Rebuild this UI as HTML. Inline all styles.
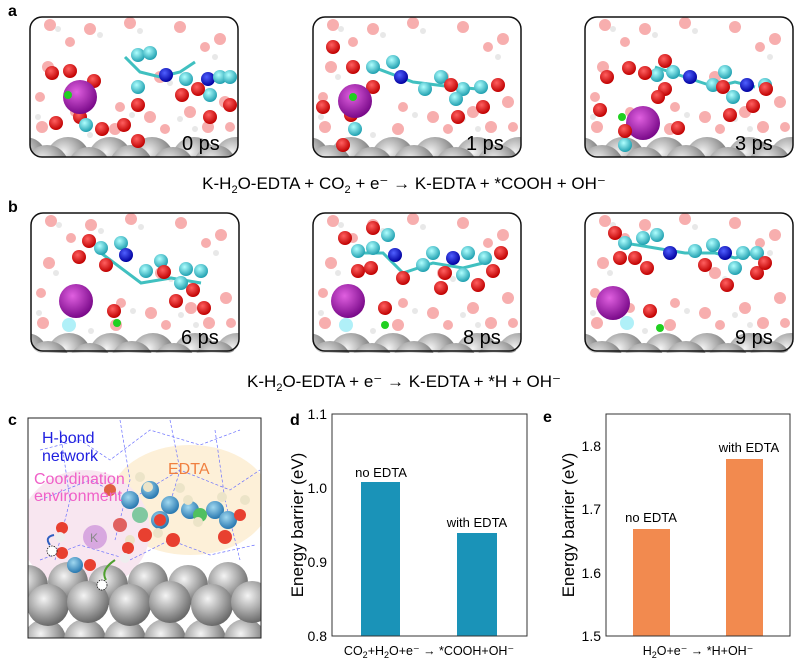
<!DOCTYPE html>
<html><head><meta charset="utf-8"><style>
html,body{margin:0;padding:0;background:#fff;}
svg{display:block;font-family:"Liberation Sans",Arial,sans-serif;}
</style></head><body>
<svg width="799" height="661" viewBox="0 0 799 661" xmlns="http://www.w3.org/2000/svg">
<defs>
<radialGradient id="gm" cx="0.4" cy="0.35" r="0.65"><stop offset="0" stop-color="#f4f4f4"/><stop offset="0.5" stop-color="#b0b0b0"/><stop offset="1" stop-color="#6a6a6a"/></radialGradient>
<radialGradient id="gk" cx="0.4" cy="0.35" r="0.65"><stop offset="0" stop-color="#e060e0"/><stop offset="1" stop-color="#7a0a8a"/></radialGradient>
<radialGradient id="gr" cx="0.4" cy="0.35" r="0.65"><stop offset="0" stop-color="#ff6060"/><stop offset="1" stop-color="#c00000"/></radialGradient>
<radialGradient id="gc" cx="0.4" cy="0.35" r="0.65"><stop offset="0" stop-color="#b0ffff"/><stop offset="1" stop-color="#20a0b0"/></radialGradient>
<radialGradient id="gb" cx="0.4" cy="0.35" r="0.65"><stop offset="0" stop-color="#5060ff"/><stop offset="1" stop-color="#0000a0"/></radialGradient>
<radialGradient id="gcb" cx="0.4" cy="0.35" r="0.65"><stop offset="0" stop-color="#a0d8f0"/><stop offset="1" stop-color="#2878b0"/></radialGradient>
<clipPath id="cf"><rect x="0" y="0" width="208" height="140" rx="12"/></clipPath>
<g id="metal">
<circle cx="-5" cy="142" r="22" fill="url(#gm)"/><circle cx="38" cy="142" r="22" fill="url(#gm)"/><circle cx="80" cy="142" r="22" fill="url(#gm)"/><circle cx="122" cy="142" r="22" fill="url(#gm)"/><circle cx="164" cy="142" r="22" fill="url(#gm)"/><circle cx="206" cy="142" r="22" fill="url(#gm)"/>
<circle cx="17" cy="150" r="22" fill="url(#gm)"/><circle cx="59" cy="152" r="22" fill="url(#gm)"/><circle cx="101" cy="150" r="22" fill="url(#gm)"/><circle cx="143" cy="152" r="22" fill="url(#gm)"/><circle cx="185" cy="150" r="22" fill="url(#gm)"/>
</g>
<g id="water" fill="#f6a0a0" opacity="0.85">
<circle cx="20" cy="8" r="6"/><circle cx="60" cy="12" r="6"/><circle cx="100" cy="6" r="6"/><circle cx="150" cy="10" r="6"/><circle cx="190" cy="22" r="6"/><circle cx="18" cy="50" r="6"/><circle cx="130" cy="60" r="6"/><circle cx="195" cy="85" r="6"/><circle cx="120" cy="100" r="6"/><circle cx="160" cy="95" r="6"/><circle cx="12" cy="110" r="6"/><circle cx="85" cy="112" r="6"/><circle cx="178" cy="110" r="6"/><circle cx="45" cy="95" r="5"/><circle cx="40" cy="25" r="5"/><circle cx="175" cy="30" r="5"/><circle cx="200" cy="110" r="5"/><circle cx="135" cy="112" r="5"/><circle cx="90" cy="90" r="5"/><circle cx="10" cy="80" r="5"/>
</g>
<g id="wh" fill="#e8e8e8">
<circle cx="28" cy="12" r="3"/><circle cx="70" cy="18" r="3"/><circle cx="110" cy="14" r="3"/><circle cx="25" cy="60" r="3"/><circle cx="140" cy="66" r="3"/><circle cx="102" cy="98" r="3"/><circle cx="150" cy="102" r="3"/><circle cx="8" cy="100" r="3"/><circle cx="185" cy="40" r="3"/><circle cx="165" cy="112" r="3"/><circle cx="60" cy="118" r="3"/>
</g>
</defs>

<text x="8" y="16" font-size="16" font-weight="bold">a</text>
<text x="8" y="212" font-size="16" font-weight="bold">b</text>
<text x="8" y="425" font-size="16" font-weight="bold">c</text>
<text x="290" y="425" font-size="16" font-weight="bold">d</text>
<text x="543" y="422" font-size="16" font-weight="bold">e</text>

<g transform="translate(30,17)">
<g clip-path="url(#cf)"><use href="#water"/><use href="#wh"/><use href="#metal"/>
<path d="M95 40 L110 55 L130 60 L150 55 L165 45" stroke="#40c0c0" stroke-width="3" fill="none"/>
<circle cx="108" cy="38" r="7" fill="url(#gc)"/><circle cx="120" cy="36" r="7" fill="url(#gc)"/><circle cx="136" cy="58" r="7" fill="url(#gb)"/><circle cx="156" cy="62" r="7" fill="url(#gc)"/><circle cx="178" cy="62" r="7" fill="url(#gb)"/><circle cx="190" cy="60" r="7" fill="url(#gc)"/><circle cx="200" cy="60" r="7" fill="url(#gc)"/><circle cx="108" cy="70" r="7" fill="url(#gc)"/><circle cx="180" cy="78" r="7" fill="url(#gc)"/>
<circle cx="64" cy="64" r="7" fill="url(#gr)"/><circle cx="108" cy="88" r="7" fill="url(#gr)"/><circle cx="168" cy="72" r="7" fill="url(#gr)"/><circle cx="152" cy="78" r="7" fill="url(#gr)"/><circle cx="180" cy="100" r="7" fill="url(#gr)"/><circle cx="200" cy="88" r="7" fill="url(#gr)"/><circle cx="22" cy="56" r="7" fill="url(#gr)"/><circle cx="40" cy="54" r="7" fill="url(#gr)"/><circle cx="94" cy="108" r="7" fill="url(#gr)"/><circle cx="26" cy="106" r="7" fill="url(#gr)"/><circle cx="50" cy="100" r="7" fill="url(#gr)"/><circle cx="72" cy="112" r="7" fill="url(#gr)"/><circle cx="108" cy="124" r="7" fill="url(#gr)"/>
<circle cx="50" cy="80" r="17" fill="url(#gk)"/><circle cx="38" cy="78" r="4" fill="#20d020"/><circle cx="56" cy="108" r="7" fill="url(#gc)"/>
</g><rect x="0" y="0" width="208" height="140" rx="12" fill="none" stroke="#111" stroke-width="1.5"/>
<text x="152" y="133" font-size="20">0 ps</text></g>

<g transform="translate(313,17)">
<g clip-path="url(#cf)"><use href="#water"/><use href="#wh"/><use href="#metal"/>
<path d="M60 50 L100 65 L140 70 L165 72" stroke="#40c0c0" stroke-width="3" fill="none"/>
<circle cx="60" cy="50" r="7" fill="url(#gc)"/><circle cx="80" cy="45" r="7" fill="url(#gc)"/><circle cx="88" cy="60" r="7" fill="url(#gb)"/><circle cx="112" cy="72" r="7" fill="url(#gc)"/><circle cx="128" cy="60" r="7" fill="url(#gc)"/><circle cx="150" cy="72" r="7" fill="url(#gc)"/><circle cx="168" cy="70" r="7" fill="url(#gc)"/><circle cx="143" cy="82" r="7" fill="url(#gc)"/>
<circle cx="40" cy="50" r="7" fill="url(#gr)"/><circle cx="60" cy="70" r="7" fill="url(#gr)"/><circle cx="138" cy="68" r="7" fill="url(#gr)"/><circle cx="145" cy="100" r="7" fill="url(#gr)"/><circle cx="170" cy="90" r="7" fill="url(#gr)"/><circle cx="185" cy="68" r="7" fill="url(#gr)"/><circle cx="20" cy="30" r="7" fill="url(#gr)"/><circle cx="10" cy="90" r="7" fill="url(#gr)"/><circle cx="38" cy="98" r="7" fill="url(#gr)"/><circle cx="30" cy="128" r="7" fill="url(#gr)"/>
<circle cx="42" cy="84" r="17" fill="url(#gk)"/><circle cx="40" cy="80" r="4" fill="#20d020"/><circle cx="42" cy="112" r="7" fill="url(#gc)"/>
</g><rect x="0" y="0" width="208" height="140" rx="12" fill="none" stroke="#111" stroke-width="1.5"/>
<text x="153" y="133" font-size="20">1 ps</text></g>

<g transform="translate(585,17)">
<g clip-path="url(#cf)"><use href="#water"/><use href="#wh"/><use href="#metal"/>
<path d="M70 50 L100 60 L130 70 L150 65 L170 70" stroke="#40c0c0" stroke-width="3" fill="none"/>
<circle cx="72" cy="58" r="7" fill="url(#gc)"/><circle cx="88" cy="55" r="7" fill="url(#gc)"/><circle cx="105" cy="60" r="7" fill="url(#gb)"/><circle cx="128" cy="68" r="7" fill="url(#gc)"/><circle cx="140" cy="55" r="7" fill="url(#gc)"/><circle cx="162" cy="68" r="7" fill="url(#gb)"/><circle cx="180" cy="68" r="7" fill="url(#gc)"/><circle cx="148" cy="80" r="7" fill="url(#gc)"/>
<circle cx="44" cy="51" r="7" fill="url(#gr)"/><circle cx="60" cy="56" r="7" fill="url(#gr)"/><circle cx="80" cy="44" r="7" fill="url(#gr)"/><circle cx="80" cy="72" r="7" fill="url(#gr)"/><circle cx="73" cy="80" r="7" fill="url(#gr)"/><circle cx="138" cy="70" r="7" fill="url(#gr)"/><circle cx="145" cy="98" r="7" fill="url(#gr)"/><circle cx="168" cy="89" r="7" fill="url(#gr)"/><circle cx="181" cy="72" r="7" fill="url(#gr)"/><circle cx="15" cy="93" r="7" fill="url(#gr)"/><circle cx="22" cy="60" r="7" fill="url(#gr)"/><circle cx="93" cy="111" r="7" fill="url(#gr)"/>
<circle cx="58" cy="106" r="17" fill="url(#gk)"/><circle cx="37" cy="100" r="4" fill="#20d020"/><circle cx="40" cy="114" r="7" fill="url(#gr)"/><circle cx="40" cy="128" r="7" fill="url(#gc)"/>
</g><rect x="0" y="0" width="208" height="140" rx="12" fill="none" stroke="#111" stroke-width="1.5"/>
<text x="150" y="133" font-size="20">3 ps</text></g>

<text x="404" y="189" font-size="17" text-anchor="middle">K-H<tspan font-size="11" dy="4">2</tspan><tspan dy="-4">O-EDTA + CO</tspan><tspan font-size="11" dy="4">2</tspan><tspan dy="-4"> + e⁻ → K-EDTA + *COOH + OH⁻</tspan></text>

<g transform="translate(31,213)">
<g clip-path="url(#cf)"><use href="#water"/><use href="#wh"/><use href="#metal"/>
<path d="M70 40 L110 70 L140 65 L170 70" stroke="#40c0c0" stroke-width="3" fill="none"/>
<circle cx="70" cy="35" r="7" fill="url(#gc)"/><circle cx="90" cy="30" r="7" fill="url(#gc)"/><circle cx="95" cy="42" r="7" fill="url(#gb)"/><circle cx="115" cy="58" r="7" fill="url(#gc)"/><circle cx="130" cy="48" r="7" fill="url(#gc)"/><circle cx="155" cy="56" r="7" fill="url(#gc)"/><circle cx="170" cy="58" r="7" fill="url(#gc)"/><circle cx="150" cy="70" r="7" fill="url(#gc)"/>
<circle cx="58" cy="28" r="7" fill="url(#gr)"/><circle cx="48" cy="44" r="7" fill="url(#gr)"/><circle cx="75" cy="52" r="7" fill="url(#gr)"/><circle cx="133" cy="59" r="7" fill="url(#gr)"/><circle cx="162" cy="77" r="7" fill="url(#gr)"/><circle cx="145" cy="88" r="7" fill="url(#gr)"/><circle cx="173" cy="95" r="7" fill="url(#gr)"/><circle cx="83" cy="98" r="7" fill="url(#gr)"/>
<circle cx="45" cy="88" r="17" fill="url(#gk)"/><circle cx="86" cy="110" r="4" fill="#20d020"/><circle cx="38" cy="112" r="7" fill="#b0f0f8"/>
</g><rect x="0" y="0" width="208" height="138" rx="12" fill="none" stroke="#111" stroke-width="1.5"/>
<text x="150" y="131" font-size="20">6 ps</text></g>

<g transform="translate(313,213)">
<g clip-path="url(#cf)"><use href="#water"/><use href="#wh"/><use href="#metal"/>
<path d="M40 40 L70 40 L90 60 L120 50 L150 55 L170 50" stroke="#40c0c0" stroke-width="3" fill="none"/>
<circle cx="45" cy="38" r="7" fill="url(#gc)"/><circle cx="60" cy="35" r="7" fill="url(#gc)"/><circle cx="75" cy="22" r="7" fill="url(#gc)"/><circle cx="82" cy="42" r="7" fill="url(#gb)"/><circle cx="110" cy="52" r="7" fill="url(#gc)"/><circle cx="120" cy="40" r="7" fill="url(#gc)"/><circle cx="140" cy="45" r="7" fill="url(#gb)"/><circle cx="155" cy="40" r="7" fill="url(#gc)"/><circle cx="172" cy="45" r="7" fill="url(#gc)"/><circle cx="150" cy="62" r="7" fill="url(#gc)"/>
<circle cx="32" cy="25" r="7" fill="url(#gr)"/><circle cx="60" cy="15" r="7" fill="url(#gr)"/><circle cx="45" cy="58" r="7" fill="url(#gr)"/><circle cx="58" cy="55" r="7" fill="url(#gr)"/><circle cx="90" cy="65" r="7" fill="url(#gr)"/><circle cx="132" cy="60" r="7" fill="url(#gr)"/><circle cx="128" cy="75" r="7" fill="url(#gr)"/><circle cx="165" cy="72" r="7" fill="url(#gr)"/><circle cx="180" cy="58" r="7" fill="url(#gr)"/><circle cx="188" cy="40" r="7" fill="url(#gr)"/><circle cx="72" cy="95" r="7" fill="url(#gr)"/>
<circle cx="35" cy="88" r="17" fill="url(#gk)"/><circle cx="72" cy="112" r="4" fill="#20d020"/><circle cx="33" cy="112" r="7" fill="#b0f0f8"/>
</g><rect x="0" y="0" width="208" height="138" rx="12" fill="none" stroke="#111" stroke-width="1.5"/>
<text x="150" y="131" font-size="20">8 ps</text></g>

<g transform="translate(585,213)">
<g clip-path="url(#cf)"><use href="#water"/><use href="#wh"/><use href="#metal"/>
<path d="M40 30 L70 35 L100 40 L130 40 L150 45 L170 40" stroke="#40c0c0" stroke-width="3" fill="none"/>
<circle cx="40" cy="30" r="7" fill="url(#gc)"/><circle cx="58" cy="25" r="7" fill="url(#gc)"/><circle cx="72" cy="22" r="7" fill="url(#gc)"/><circle cx="85" cy="40" r="7" fill="url(#gb)"/><circle cx="110" cy="38" r="7" fill="url(#gc)"/><circle cx="128" cy="32" r="7" fill="url(#gc)"/><circle cx="140" cy="40" r="7" fill="url(#gb)"/><circle cx="158" cy="40" r="7" fill="url(#gc)"/><circle cx="172" cy="40" r="7" fill="url(#gc)"/><circle cx="150" cy="55" r="7" fill="url(#gc)"/>
<circle cx="30" cy="20" r="7" fill="url(#gr)"/><circle cx="35" cy="45" r="7" fill="url(#gr)"/><circle cx="50" cy="45" r="7" fill="url(#gr)"/><circle cx="62" cy="55" r="7" fill="url(#gr)"/><circle cx="120" cy="52" r="7" fill="url(#gr)"/><circle cx="142" cy="72" r="7" fill="url(#gr)"/><circle cx="172" cy="60" r="7" fill="url(#gr)"/><circle cx="180" cy="50" r="7" fill="url(#gr)"/><circle cx="65" cy="98" r="7" fill="url(#gr)"/>
<circle cx="28" cy="90" r="17" fill="url(#gk)"/><circle cx="75" cy="115" r="4" fill="#20d020"/><circle cx="42" cy="110" r="7" fill="#b0f0f8"/>
</g><rect x="0" y="0" width="208" height="138" rx="12" fill="none" stroke="#111" stroke-width="1.5"/>
<text x="150" y="131" font-size="20">9 ps</text></g>

<text x="404" y="387" font-size="17" text-anchor="middle">K-H<tspan font-size="11" dy="4">2</tspan><tspan dy="-4">O-EDTA + e⁻ → K-EDTA + *H + OH⁻</tspan></text>

<g>
<clipPath id="cc"><rect x="28" y="418" width="233" height="220"/></clipPath>
<g clip-path="url(#cc)">
<rect x="28" y="418" width="233" height="220" fill="#fff"/>
<ellipse cx="190" cy="500" rx="80" ry="55" fill="#fdf0d8"/>
<ellipse cx="85" cy="530" rx="65" ry="60" fill="#f8e6f0"/>
<g stroke="#6a70ff" stroke-width="0.7" stroke-dasharray="3,2" fill="none">
<path d="M40 450 L80 440 L110 460 L150 430 L200 445 L240 430"/><path d="M40 500 L90 480 L130 500 L180 470 L230 490 L260 470"/><path d="M40 560 L80 545 L130 560 L170 540 L210 555 L255 545"/><path d="M120 420 L130 480 L115 540"/><path d="M170 420 L180 470 L165 520"/><path d="M215 430 L225 500 L240 560"/><path d="M60 430 L70 500 L55 560"/>
</g>
<g fill="url(#gm)">
<circle cx="45" cy="640" r="21"/><circle cx="85" cy="640" r="21"/><circle cx="125" cy="640" r="21"/><circle cx="165" cy="640" r="21"/><circle cx="205" cy="640" r="21"/><circle cx="245" cy="640" r="21"/>
<circle cx="28" cy="585" r="20"/><circle cx="68" cy="582" r="20"/><circle cx="108" cy="585" r="20"/><circle cx="148" cy="582" r="20"/><circle cx="188" cy="585" r="20"/><circle cx="228" cy="582" r="20"/>
<circle cx="48" cy="605" r="21"/><circle cx="88" cy="602" r="21"/><circle cx="130" cy="605" r="21"/><circle cx="170" cy="602" r="21"/><circle cx="212" cy="605" r="21"/><circle cx="252" cy="602" r="21"/>
</g>
<g>
<circle cx="130" cy="500" r="9" fill="url(#gcb)"/><circle cx="150" cy="490" r="9" fill="url(#gcb)"/><circle cx="170" cy="505" r="9" fill="url(#gcb)"/><circle cx="190" cy="510" r="9" fill="url(#gcb)"/><circle cx="215" cy="510" r="9" fill="url(#gcb)"/><circle cx="228" cy="520" r="9" fill="url(#gcb)"/><circle cx="160" cy="520" r="9" fill="url(#gcb)"/><circle cx="140" cy="515" r="8" fill="#80c8a0"/><circle cx="200" cy="515" r="7" fill="#50c060"/>
<circle cx="160" cy="520" r="6" fill="#e84030"/><circle cx="120" cy="525" r="7" fill="#e06060"/><circle cx="145" cy="535" r="7" fill="#e84030"/><circle cx="173" cy="540" r="7" fill="#e84030"/><circle cx="225" cy="537" r="7" fill="#e84030"/><circle cx="240" cy="515" r="6" fill="#e84030"/><circle cx="110" cy="490" r="6" fill="#e06040"/>
<g fill="#ece4c8"><circle cx="140" cy="477" r="5"/><circle cx="148" cy="487" r="5"/><circle cx="180" cy="488" r="5"/><circle cx="188" cy="500" r="5"/><circle cx="222" cy="497" r="5"/><circle cx="245" cy="500" r="5"/><circle cx="198" cy="522" r="5"/><circle cx="158" cy="533" r="5"/><circle cx="130" cy="540" r="5"/></g>
<circle cx="95" cy="537" r="12" fill="#d8a8e0"/><text x="90" y="542" font-size="12" fill="#888">K</text>
<circle cx="62" cy="528" r="6" fill="#e84030"/><circle cx="60" cy="537" r="5" fill="#eee"/><circle cx="62" cy="553" r="6" fill="#e84030"/><circle cx="75" cy="565" r="8" fill="url(#gcb)"/><circle cx="90" cy="565" r="6" fill="#e84030"/>
<circle cx="128" cy="548" r="6" fill="#e84030"/><circle cx="125" cy="558" r="5" fill="#eee"/>
<circle cx="52" cy="551" r="5" fill="#fff" stroke="#000" stroke-width="0.7" stroke-dasharray="1.5,1"/><circle cx="102" cy="585" r="5" fill="#fff" stroke="#000" stroke-width="0.7" stroke-dasharray="1.5,1"/>
<path d="M50 545 Q44 537 54 535" stroke="#3060c0" stroke-width="2" fill="none"/><path d="M115 560 Q100 570 106 580" stroke="#50a030" stroke-width="2" fill="none"/>
</g>
<text x="42" y="443" font-size="16" fill="#2020e0">H-bond</text>
<text x="42" y="461" font-size="16" fill="#2020e0">network</text>
<text x="168" y="474" font-size="16" fill="#f08040">EDTA</text>
<text x="34" y="484" font-size="16" fill="#f060c8">Coordination</text>
<text x="34" y="501" font-size="16" fill="#f060c8">environment</text>
</g>
<rect x="28" y="418" width="233" height="220" fill="none" stroke="#222" stroke-width="1"/>
</g>

<g font-size="14">
<rect x="361" y="482" width="39" height="154" fill="#1a93b8"/>
<rect x="457" y="533" width="40" height="103" fill="#1a93b8"/>
<rect x="332" y="414" width="195" height="222" fill="none" stroke="#333" stroke-width="1"/>
<g text-anchor="end"><text x="327" y="419">1.1</text><text x="327" y="493">1.0</text><text x="327" y="567">0.9</text><text x="327" y="641">0.8</text></g>
<text x="381" y="477" font-size="13" text-anchor="middle">no EDTA</text>
<text x="477" y="527" font-size="13" text-anchor="middle">with EDTA</text>
<text transform="translate(303,525) rotate(-90)" font-size="17" text-anchor="middle">Energy barrier (eV)</text>
<text x="429" y="655" font-size="12.5" text-anchor="middle">CO<tspan font-size="9" dy="3">2</tspan><tspan dy="-3">+H</tspan><tspan font-size="9" dy="3">2</tspan><tspan dy="-3">O+e⁻ → *COOH+OH⁻</tspan></text>
</g>

<g font-size="14">
<rect x="633" y="529" width="37" height="107" fill="#f28a4f"/>
<rect x="726" y="459" width="37" height="177" fill="#f28a4f"/>
<rect x="606" y="414" width="184" height="222" fill="none" stroke="#333" stroke-width="1"/>
<g text-anchor="end"><text x="601" y="451">1.8</text><text x="601" y="514">1.7</text><text x="601" y="578">1.6</text><text x="601" y="641">1.5</text></g>
<text x="651" y="522" font-size="13" text-anchor="middle">no EDTA</text>
<text x="749" y="452" font-size="13" text-anchor="middle">with EDTA</text>
<text transform="translate(574,525) rotate(-90)" font-size="17" text-anchor="middle">Energy barrier (eV)</text>
<text x="698" y="655" font-size="12.5" text-anchor="middle">H<tspan font-size="9" dy="3">2</tspan><tspan dy="-3">O+e⁻ → *H+OH⁻</tspan></text>
</g>
</svg>
</body></html>
